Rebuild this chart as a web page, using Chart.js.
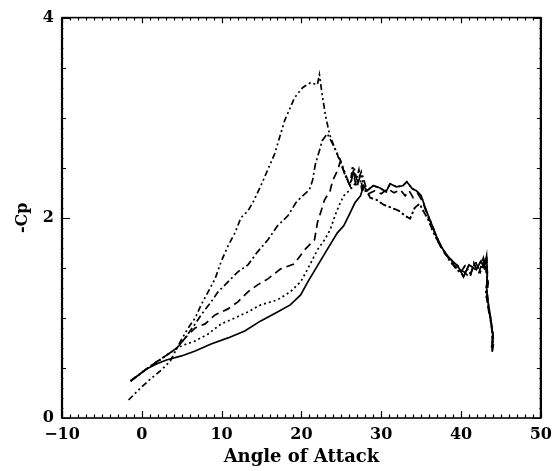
<!DOCTYPE html>
<html>
<head>
<meta charset="utf-8">
<script src="https://cdn.jsdelivr.net/npm/chart.js@4"></script>
<style>
html,body{margin:0;padding:0;background:#fff;}
canvas{display:block;}
</style>
</head>
<body>
<canvas id="c" width="559" height="471"></canvas>
<script>
// ---- data ----
const xTicks = [-10, 0, 10, 20, 30, 40, 50];
const yTicks = [0, 2, 4];

const solidX = [-1.41, 0.59, 1.83, 3.08, 4.97, 6.69, 8.68, 10.8, 12.9, 14.9, 17.0, 18.6, 19.9, 20.8, 22.3, 23.2, 24.5, 25.3, 26.1, 26.7, 27.4, 27.8];
const solidY = [0.37, 0.49, 0.54, 0.58, 0.62, 0.67, 0.74, 0.80, 0.87, 0.97, 1.06, 1.13, 1.23, 1.36, 1.56, 1.68, 1.85, 1.92, 2.05, 2.15, 2.22, 2.32];

const dottedX = [-1.41, 0.59, 1.83, 3.33, 4.94, 6.69, 8.31, 9.93, 11.67, 13.3, 14.9, 17.0, 18.6, 19.9, 20.8, 22.0, 22.9, 23.6, 24.2, 24.7, 25.3, 26.1, 27.0, 27.4, 27.9];
const dottedY = [0.37, 0.49, 0.55, 0.64, 0.72, 0.77, 0.84, 0.94, 1.00, 1.06, 1.13, 1.18, 1.26, 1.36, 1.49, 1.68, 1.78, 1.88, 2.02, 2.12, 2.22, 2.28, 2.37, 2.44, 2.30];

const dashedX = [-1.41, 0.59, 1.83, 3.33, 4.4, 5.44, 6.69, 7.93, 9.18, 10.8, 12.04, 13.3, 14.5, 15.8, 17.4, 19.1, 20.4, 21.64, 22.0, 22.4, 22.9, 23.6, 23.9, 24.5, 24.9, 25.5, 26.1, 26.5, 26.9, 27.3, 27.8];
const dashedY = [0.37, 0.49, 0.56, 0.64, 0.70, 0.80, 0.90, 0.94, 1.03, 1.09, 1.16, 1.26, 1.33, 1.39, 1.49, 1.54, 1.68, 1.78, 1.95, 2.05, 2.18, 2.27, 2.37, 2.47, 2.57, 2.42, 2.32, 2.45, 2.30, 2.40, 2.28];

const dashDotX = [-1.41, 0.59, 1.83, 3.33, 4.4, 5.44, 6.69, 7.43, 8.68, 9.55, 10.8, 12.04, 13.3, 14.5, 15.8, 17.0, 18.3, 19.3, 19.9, 21.0, 21.38, 21.76, 22.25, 22.6, 23.24, 24.1, 24.9, 25.5, 26.1, 26.6, 27.0, 27.5, 28.0];
const dashDotY = [0.37, 0.49, 0.56, 0.64, 0.70, 0.80, 0.94, 1.03, 1.16, 1.26, 1.36, 1.46, 1.53, 1.66, 1.78, 1.92, 2.02, 2.15, 2.20, 2.28, 2.37, 2.54, 2.67, 2.77, 2.84, 2.71, 2.55, 2.42, 2.32, 2.50, 2.35, 2.46, 2.33];

const peakX = [-1.66, -0.16, 1.08, 2.33, 3.57, 4.94, 5.82, 6.69, 7.43, 8.31, 9.18, 9.93, 10.8, 11.67, 12.42, 13.3, 13.9, 14.91, 16.65, 17.89, 19.14, 20.14, 21.13, 22.0, 22.25, 22.6, 23.0, 23.5, 24.1, 24.9, 25.5, 26.1, 26.4, 26.8, 27.2, 27.6];
const peakY = [0.18, 0.30, 0.39, 0.47, 0.57, 0.78, 0.90, 1.00, 1.13, 1.26, 1.39, 1.56, 1.72, 1.85, 2.00, 2.07, 2.15, 2.32, 2.64, 2.97, 3.20, 3.30, 3.35, 3.33, 3.43, 3.23, 3.03, 2.84, 2.71, 2.57, 2.44, 2.32, 2.52, 2.36, 2.48, 2.26];

// common post-stall part (three nearly coincident branches)
const tailAX = [28.2, 29.0, 29.8, 30.6, 31.1, 31.9, 32.7, 33.2, 33.9, 34.4, 35.0, 35.6, 36.2, 36.9, 37.6, 38.3, 39.0, 39.6, 40.3, 41.0, 41.9, 42.5, 42.9, 43.2, 43.3, 43.2, 43.4, 43.7, 44.0, 43.9];
const tailAY = [2.27, 2.32, 2.30, 2.26, 2.34, 2.31, 2.32, 2.36, 2.29, 2.27, 2.22, 2.08, 1.96, 1.82, 1.70, 1.62, 1.56, 1.52, 1.41, 1.53, 1.48, 1.57, 1.50, 1.62, 1.44, 1.30, 1.15, 1.00, 0.82, 0.67];
const tailBX = [28.6, 29.4, 30.3, 31.3, 32.2, 33.0, 33.6, 34.2, 34.8, 35.4, 35.9, 36.5, 37.2, 37.9, 38.5, 39.3, 39.9, 40.5, 41.2, 41.8, 42.4, 43.0, 43.3, 43.1, 43.5, 43.8, 44.0, 43.8];
const tailBY = [2.20, 2.18, 2.13, 2.10, 2.07, 2.02, 1.99, 2.10, 2.14, 2.05, 1.98, 1.86, 1.75, 1.66, 1.58, 1.50, 1.45, 1.52, 1.44, 1.56, 1.46, 1.58, 1.38, 1.25, 1.08, 0.92, 0.78, 0.70];
const tailCX = [28.4, 29.2, 30.0, 30.8, 31.6, 32.4, 33.0, 33.5, 34.0, 34.6, 35.2, 35.8, 36.4, 37.0, 37.7, 38.4, 39.1, 39.8, 40.4, 41.1, 41.6, 42.2, 42.8, 43.1, 43.4, 43.2, 43.5, 43.9, 44.1, 43.9];
const tailCY = [2.24, 2.27, 2.24, 2.29, 2.25, 2.28, 2.22, 2.27, 2.20, 2.24, 2.16, 2.02, 1.92, 1.78, 1.67, 1.60, 1.53, 1.48, 1.46, 1.40, 1.55, 1.44, 1.60, 1.52, 1.35, 1.20, 1.05, 0.90, 0.75, 0.66];

// ---- build datasets ----
function pts(xs, ys) { return xs.map((x, i) => ({x: x, y: ys[i]})); }
function series(xs, ys, txs, tys, dash) {
  return {
    data: pts(xs.concat(txs), ys.concat(tys)),
    borderColor: '#000',
    borderWidth: 1.7,
    borderDash: dash,
    pointRadius: 0,
    tension: 0,
    fill: false
  };
}

const datasets = [
  series(solidX, solidY, tailAX, tailAY, []),
  series(dottedX, dottedY, tailBX, tailBY, [2, 3]),
  series(dashedX, dashedY, tailCX, tailCY, [8, 5]),
  series(dashDotX, dashDotY, tailBX, tailBY, [7, 3, 2, 3]),
  series(peakX, peakY, tailAX, tailAY, [6, 3, 2, 3, 2, 3])
];

const FONT = 'DejaVu Serif';

const framePlugin = {
  id: 'frame',
  afterDraw(chart) {
    const {ctx, chartArea: a, scales: {x, y}} = chart;
    ctx.save();
    ctx.strokeStyle = '#000';
    ctx.lineWidth = 1.2;
    ctx.beginPath();
    for (let v = -10; v <= 50; v += 1) {
      const px = Math.round(x.getPixelForValue(v)) + 0.5;
      const len = (v % 10 === 0) ? 7 : 3.5;
      ctx.moveTo(px, a.bottom); ctx.lineTo(px, a.bottom - len);
      ctx.moveTo(px, a.top); ctx.lineTo(px, a.top + len * 0.8);
    }
    for (let k = 0; k <= 40; k++) {
      const v = k / 10;
      const py = Math.round(y.getPixelForValue(v)) + 0.5;
      let len = 1.5;
      if (k % 5 === 0) len = 4;
      if (k % 20 === 0) len = 8;
      ctx.moveTo(a.left, py); ctx.lineTo(a.left + len, py);
      ctx.moveTo(a.right, py); ctx.lineTo(a.right - len, py);
    }
    ctx.stroke();
    ctx.lineWidth = 1.6;
    ctx.strokeRect(a.left, a.top, a.right - a.left, a.bottom - a.top);
    ctx.lineWidth = 2.2;
    ctx.beginPath();
    ctx.moveTo(a.left, a.top); ctx.lineTo(a.left, a.bottom);
    ctx.moveTo(a.right, a.top); ctx.lineTo(a.right, a.bottom);
    ctx.stroke();
    ctx.restore();
  }
};

new Chart(document.getElementById('c'), {
  type: 'line',
  data: {datasets: datasets},
  options: {
    responsive: false,
    animation: false,
    devicePixelRatio: 1,
    layout: {padding: {top: 12, right: 14, left: 0, bottom: 0}},
    plugins: {legend: {display: false}, tooltip: {enabled: false}},
    scales: {
      x: {
        type: 'linear',
        min: -10, max: 50,
        afterBuildTicks(s) { s.ticks = xTicks.map(v => ({value: v})); },
        afterFit(s) { s.height = 53; },
        grid: {display: false, drawTicks: false},
        border: {display: false},
        ticks: {
          padding: 7,
          color: '#000',
          font: {family: FONT, size: 16, weight: 'bold'},
          maxRotation: 0,
          callback: v => (v < 0 ? '\u2212' + Math.abs(v) : String(v))
        },
        title: {
          display: true,
          text: 'Angle of Attack',
          color: '#000',
          font: {family: FONT, size: 18, weight: 'bold'},
          padding: {top: 0, bottom: 3}
        }
      },
      y: {
        type: 'linear',
        min: 0, max: 4,
        afterBuildTicks(s) { s.ticks = yTicks.map(v => ({value: v})); },
        afterFit(s) { s.width = 62; },
        grid: {display: false, drawTicks: false},
        border: {display: false},
        ticks: {
          padding: 8,
          color: '#000',
          font: {family: FONT, size: 16, weight: 'bold'}
        },
        title: {
          display: true,
          text: '-Cp',
          color: '#000',
          font: {family: FONT, size: 16, weight: 'bold'},
          padding: {top: 13, bottom: 0}
        }
      }
    }
  },
  plugins: [framePlugin]
});
</script>
</body>
</html>
